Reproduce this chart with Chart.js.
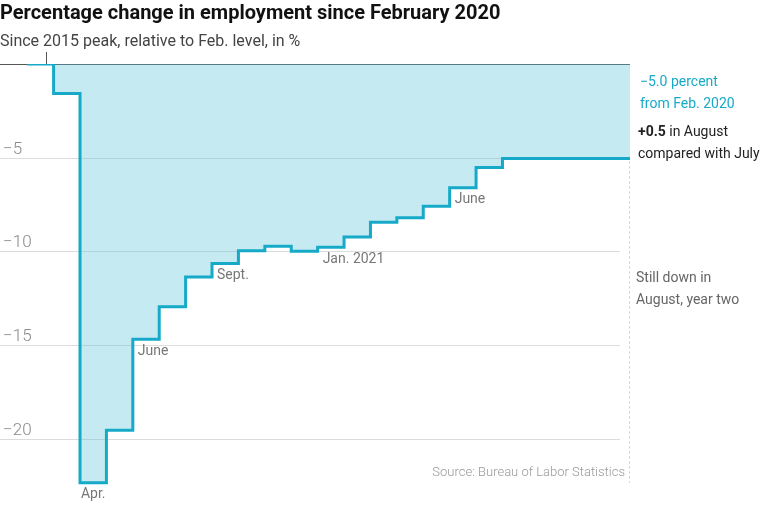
<!DOCTYPE html>
<html>
<head>
<meta charset="utf-8">
<script src="https://cdn.jsdelivr.net/npm/chart.js@4"></script>
<style>
  body { margin: 0; background: #fff; font-family: Roboto, "Liberation Sans", sans-serif; }
  #wrap { position: relative; width: 768px; height: 507px; overflow: hidden; }
  #wrap canvas { position: absolute; left: 0; top: 0; }
  .txt { position: absolute; white-space: nowrap; }
  #title { left: 0; top: 0; font-size: 20px; font-weight: 700; color: #111; }
  #subtitle { left: 0; top: 31px; font-size: 16px; color: #444; }
  .note { font-size: 14px; line-height: 22px; }
  #noteA { left: 640px; top: 70px; color: #16aac8; }
  #noteB { left: 638px; top: 120px; color: #222; }
  #noteC { left: 636px; top: 266px; color: #666; }
  #source { right: 143px; top: 464px; font-size: 13px; color: #999; font-weight: 300; }
</style>
</head>
<body>
<div id="wrap">
  <canvas id="jobsChart" width="768" height="507"></canvas>
  <div class="txt" id="title">Percentage change in employment since February 2020</div>
  <div class="txt" id="subtitle">Since 2015 peak, relative to Feb. level, in %</div>
  <div class="txt note" id="noteA">−5.0 percent<br>from Feb. 2020</div>
  <div class="txt note" id="noteB"><b>+0.5</b> in August<br>compared with July</div>
  <div class="txt note" id="noteC">Still down in<br>August, year two</div>
  <div class="txt" id="source">Source: Bureau of Labor Statistics</div>
</div>
<script>
// Mois (index 0 = févr. 2020) et variation en % depuis févr. 2020
const months = ['Feb. 2020', 'Mar.', 'Apr.', 'May', 'June', 'July', 'Aug.', 'Sept.', 'Oct.', 'Nov.', 'Dec.',
  'Jan. 2021', 'Feb.', 'Mar.', 'Apr.', 'May', 'June', 'July', 'Aug.', 'Sept.', 'Oct.', 'Nov.', 'Dec.'];
const change = [0, -1.57, -22.35, -19.55, -14.69, -12.96, -11.36, -10.65, -9.97, -9.72, -9.99, -9.78,
  -9.23, -8.44, -8.21, -7.59, -6.61, -5.52, -5.04, -5.04, -5.04, -5.04, -5.04];

// Graduations de l'axe vertical
const yTicks = [0, -5, -10, -15, -20];
const yTickLabels = ['', '−5', '−10', '−15', '−20'];

// Étiquettes de mois affichées sous certaines marches
const stepLabels = [
  { month: 2, text: 'Apr.', center: true },
  { month: 4, text: 'June' },
  { month: 7, text: 'Sept.' },
  { month: 11, text: 'Jan. 2021' },
  { month: 16, text: 'June' },
];

// Points de la courbe en escalier : chaque mois tient jusqu'au suivant
const points = change.map((v, i) => ({ x: i, y: v }));
points.push({ x: change.length, y: change[change.length - 1] });

const lineColor = '#16aac8';

const extras = {
  id: 'extras',
  beforeDatasetsDraw(chart) {
    const { ctx, chartArea, scales: { x, y } } = chart;
    ctx.save();
    yTicks.forEach((t, i) => {
      const py = Math.round(y.getPixelForValue(t)) + 0.5;
      ctx.beginPath();
      if (t === 0) {
        ctx.strokeStyle = '#555';
        ctx.lineWidth = 1.2;
        ctx.moveTo(chartArea.left, py);
        ctx.lineTo(chartArea.right, py);
      } else {
        ctx.strokeStyle = '#dcdcdc';
        ctx.lineWidth = 1;
        ctx.moveTo(chartArea.left, py);
        ctx.lineTo(chartArea.right - 10, py);
      }
      ctx.stroke();
      if (yTickLabels[i]) {
        ctx.fillStyle = '#8a8a8a';
        ctx.font = '300 17px Roboto, sans-serif';
        ctx.textBaseline = 'alphabetic';
        ctx.textAlign = 'left';
        ctx.fillText(yTickLabels[i], chartArea.left + 3, py - 5);
      }
    });
    // petit repère sous le sous-titre
    const px = Math.round(x.getPixelForValue(0.71)) + 0.5;
    ctx.strokeStyle = '#555';
    ctx.lineWidth = 1;
    ctx.beginPath();
    ctx.moveTo(px, chartArea.top - 12);
    ctx.lineTo(px, chartArea.top);
    ctx.stroke();
    // ligne pointillée à droite
    const last = change[change.length - 1];
    const low = Math.min(...change);
    ctx.strokeStyle = '#c8c8c8';
    ctx.setLineDash([2, 3]);
    ctx.beginPath();
    ctx.moveTo(chartArea.right - 0.5, y.getPixelForValue(last) + 3);
    ctx.lineTo(chartArea.right - 0.5, y.getPixelForValue(low));
    ctx.stroke();
    ctx.restore();
  },
  afterDatasetsDraw(chart) {
    const { ctx, scales: { x, y } } = chart;
    ctx.save();
    ctx.fillStyle = '#777';
    ctx.font = '14px Roboto, sans-serif';
    ctx.textBaseline = 'top';
    stepLabels.forEach(l => {
      const py = y.getPixelForValue(change[l.month]) + 5;
      if (l.center) {
        ctx.textAlign = 'center';
        ctx.fillText(l.text, (x.getPixelForValue(l.month) + x.getPixelForValue(l.month + 1)) / 2, py);
      } else {
        ctx.textAlign = 'left';
        ctx.fillText(l.text, x.getPixelForValue(l.month) + 5, py);
      }
    });
    ctx.restore();
  }
};

const chart = new Chart(document.getElementById('jobsChart').getContext('2d'), {
  type: 'line',
  data: {
    datasets: [{
      label: 'Change since Feb. 2020',
      data: points,
      stepped: 'before',
      borderColor: lineColor,
      borderWidth: 3,
      backgroundColor: 'rgba(89, 195, 215, 0.35)',
      fill: 'origin',
      pointRadius: 0,
      borderJoinStyle: 'miter',
    }],
  },
  options: {
    responsive: false,
    animation: false,
    layout: { padding: { left: 0, top: 64, right: 138, bottom: 12 } },
    plugins: { legend: { display: false }, tooltip: { enabled: false } },
    scales: {
      x: { type: 'linear', display: false, min: -1.03, max: 22.83 },
      y: { type: 'linear', display: false, min: -23, max: 0 },
    },
  },
  plugins: [extras],
});
</script>
</body>
</html>
